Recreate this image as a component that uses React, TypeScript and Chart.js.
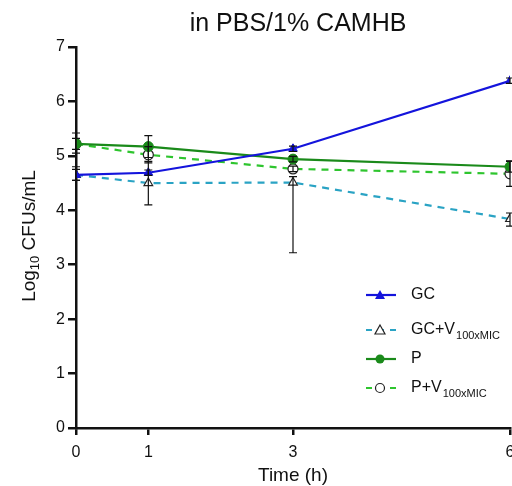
import React, { useEffect, useRef } from "react";
import { Chart, registerables } from "chart.js";

Chart.register(...registerables);

const times = [0, 1, 3, 6];
const xTickValues = [0, 1, 3, 6];
const gc = [4.65, 4.69, 5.13, 6.38];
const gcLo = [4.55, 4.64, 5.08, 6.33];
const gcHi = [4.8, 4.74, 5.18, 6.43];
const gcv = [4.65, 4.5, 4.51, 3.84];
const gcvLo = [4.55, 4.1, 3.22, 3.71];
const gcvHi = [4.75, 4.9, 4.62, 3.95];
const p = [5.22, 5.17, 4.94, 4.8];
const pLo = [5.05, 4.97, 4.89, 4.7];
const pHi = [5.42, 5.37, 4.99, 4.9];
const pv = [5.22, 5.02, 4.76, 4.67];
const pvLo = [5.12, 4.87, 4.71, 4.44];
const pvHi = [5.32, 5.17, 4.81, 4.91];

const titleText = "in PBS/1% CAMHB";
const legendItems = [
  { main: "GC", sub: "" },
  { main: "GC+V", sub: "100xMIC" },
  { main: "P", sub: "" },
  { main: "P+V", sub: "100xMIC" },
];

const FONT = "Arial, 'Liberation Sans', sans-serif";
const colors = ["#1414dc", "#2aa3c4", "#1a8a1a", "#2ec52e"];

export default function App() {
  const ref = useRef<HTMLCanvasElement>(null);
  useEffect(() => {
    document.body.style.margin = "0";
    document.body.style.overflow = "hidden";
    const canvas = ref.current!;
    const lows = [gcLo, gcvLo, pLo, pvLo];
    const highs = [gcHi, gcvHi, pHi, pvHi];

    const errorPlugin = {
      id: "errbars",
      afterDatasetsDraw(chart: any) {
        const ctx = chart.ctx;
        const xs = chart.scales.x;
        const ys = chart.scales.y;
        ctx.save();
        ctx.strokeStyle = "#111";
        ctx.lineWidth = 1.2;
        lows.forEach((lo, si) => {
          lo.forEach((l, i) => {
            const x = xs.getPixelForValue(times[i]);
            const y1 = ys.getPixelForValue(l);
            const y2 = ys.getPixelForValue(highs[si][i]);
            ctx.beginPath();
            ctx.moveTo(x, y1);
            ctx.lineTo(x, y2);
            ctx.moveTo(x - 4, y1);
            ctx.lineTo(x + 4, y1);
            ctx.moveTo(x - 4, y2);
            ctx.lineTo(x + 4, y2);
            ctx.stroke();
          });
        });
        ctx.restore();
      },
    };

    const drawMarker = (ctx: any, kind: number, x: number, y: number) => {
      ctx.save();
      ctx.setLineDash([]);
      if (kind === 0) {
        ctx.fillStyle = colors[0];
        ctx.beginPath();
        ctx.moveTo(x, y - 5);
        ctx.lineTo(x + 5, y + 4);
        ctx.lineTo(x - 5, y + 4);
        ctx.closePath();
        ctx.fill();
      } else if (kind === 1) {
        ctx.fillStyle = "#fff";
        ctx.strokeStyle = "#222";
        ctx.lineWidth = 1.2;
        ctx.beginPath();
        ctx.moveTo(x, y - 5);
        ctx.lineTo(x + 5, y + 4);
        ctx.lineTo(x - 5, y + 4);
        ctx.closePath();
        ctx.fill();
        ctx.stroke();
      } else if (kind === 2) {
        ctx.fillStyle = colors[2];
        ctx.beginPath();
        ctx.arc(x, y, 4.5, 0, Math.PI * 2);
        ctx.fill();
      } else {
        ctx.fillStyle = "#fff";
        ctx.strokeStyle = "#222";
        ctx.lineWidth = 1.2;
        ctx.beginPath();
        ctx.arc(x, y, 4.5, 0, Math.PI * 2);
        ctx.fill();
        ctx.stroke();
      }
      ctx.restore();
    };

    const textPlugin = {
      id: "texts",
      afterDraw(chart: any) {
        const ctx = chart.ctx;
        const xs = chart.scales.x;
        ctx.save();
        ctx.fillStyle = "#111";
        // title
        ctx.font = `25px ${FONT}`;
        ctx.textAlign = "center";
        ctx.textBaseline = "middle";
        ctx.fillText(titleText, 298, 24);
        // x title
        ctx.font = `19px ${FONT}`;
        ctx.fillText("Time (h)", (xs.getPixelForValue(0) + xs.getPixelForValue(6)) / 2, 476);
        // y title
        ctx.save();
        ctx.translate(28, 236);
        ctx.rotate(-Math.PI / 2);
        ctx.textAlign = "left";
        ctx.textBaseline = "alphabetic";
        const p1 = "Log";
        const p2 = "10";
        const p3 = " CFUs/mL";
        ctx.font = `19px ${FONT}`;
        const w1 = ctx.measureText(p1).width;
        const w3 = ctx.measureText(p3).width;
        ctx.font = `13px ${FONT}`;
        const w2 = ctx.measureText(p2).width;
        const total = w1 + w2 + w3;
        let cx = -total / 2;
        ctx.font = `19px ${FONT}`;
        ctx.fillText(p1, cx, 7);
        cx += w1;
        ctx.font = `13px ${FONT}`;
        ctx.fillText(p2, cx, 11);
        cx += w2;
        ctx.font = `19px ${FONT}`;
        ctx.fillText(p3, cx, 7);
        ctx.restore();
        // legend
        const ly = [295, 330, 359, 388];
        legendItems.forEach((it, i) => {
          const y = ly[i];
          ctx.save();
          ctx.strokeStyle = colors[i];
          ctx.lineWidth = 2.2;
          if (i === 1 || i === 3) ctx.setLineDash([6, 6]);
          ctx.beginPath();
          ctx.moveTo(366, y);
          ctx.lineTo(396, y);
          ctx.stroke();
          ctx.restore();
          drawMarker(ctx, i, 380, y);
          ctx.fillStyle = "#111";
          ctx.textAlign = "left";
          ctx.textBaseline = "middle";
          ctx.font = `16px ${FONT}`;
          ctx.fillText(it.main, 411, y);
          if (it.sub) {
            const w = ctx.measureText(it.main).width;
            ctx.font = `11px ${FONT}`;
            ctx.fillText(it.sub, 411 + w + 1, y + 6);
          }
        });
        ctx.restore();
      },
    };

    const mk = (label: string, data: number[], i: number, dashed: boolean, style: any, filled: boolean) => ({
      label,
      data: times.map((t, k) => ({ x: t, y: data[k] })),
      borderColor: colors[i],
      backgroundColor: colors[i],
      borderWidth: 2.2,
      borderDash: dashed ? [7, 6] : [],
      pointStyle: style,
      pointRadius: 5,
      pointBackgroundColor: filled ? colors[i] : "#ffffff",
      pointBorderColor: filled ? colors[i] : "#222",
      pointBorderWidth: filled ? 1 : 1.2,
      tension: 0,
    });

    const chart = new Chart(canvas, {
      type: "line",
      data: {
        datasets: [
          mk("GC", gc, 0, false, "triangle", true),
          mk("P", p, 2, false, "circle", true),
          mk("GC+V", gcv, 1, true, "triangle", false),
          mk("P+V", pv, 3, true, "circle", false),
        ],
      },
      options: {
        responsive: false,
        animation: false,
        layout: { padding: { top: 47, right: 30, left: 0, bottom: 0 } },
        plugins: { legend: { display: false }, tooltip: { enabled: false }, title: { display: false } },
        scales: {
          x: {
            type: "linear",
            min: 0,
            max: 6,
            afterBuildTicks: (s: any) => {
              s.ticks = xTickValues.map((v) => ({ value: v }));
            },
            afterFit: (s: any) => {
              s.height = 58;
            },
            grid: { drawOnChartArea: false, drawTicks: true, tickLength: 7, color: "#111", lineWidth: 2.5 },
            border: { display: true, color: "#111", width: 2.5 },
            ticks: { color: "#111", font: { size: 16, family: FONT }, padding: 8, maxRotation: 0 },
          },
          y: {
            min: 0,
            max: 7,
            afterFit: (s: any) => {
              s.width = 76;
            },
            grid: { drawOnChartArea: false, drawTicks: true, tickLength: 8, color: "#111", lineWidth: 2.5 },
            border: { display: true, color: "#111", width: 2.5 },
            ticks: { stepSize: 1, color: "#111", font: { size: 16, family: FONT }, padding: 3 },
          },
        },
      },
      plugins: [errorPlugin, textPlugin],
    } as any);
    return () => chart.destroy();
  }, []);
  return (
    <div style={{ position: "fixed", left: 0, top: 0, width: 512, height: 486, overflow: "hidden" }}>
      <canvas ref={ref} width={540} height={486} style={{ display: "block" }} />
    </div>
  );
}
